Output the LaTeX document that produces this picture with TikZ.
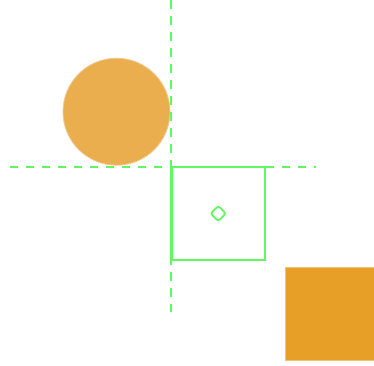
\documentclass[tikz,border=0pt]{standalone}
\usetikzlibrary{shapes.geometric}
\definecolor{lgreen}{RGB}{95,250,95}
\definecolor{circfill}{RGB}{235,174,79}
\definecolor{circedge}{RGB}{242,200,140}
\definecolor{rectfill}{RGB}{232,159,39}
\definecolor{rectedge}{RGB}{240,195,120}
\tikzset{
  guide/.style={draw=lgreen, line width=2.4pt, dash pattern=on 8.5pt off 7.5pt},
  boxline/.style={draw=lgreen, line width=2.4pt},
}
\begin{document}
\begin{tikzpicture}[x=1pt,y=-1pt]
\useasboundingbox (0,0) rectangle (374,365);
% circle
\node[circle, fill=circfill, draw=circedge, line width=0.8pt, minimum size=107pt, inner sep=0pt] (disc) at (116.5,111.7) {};
% guides
\coordinate (vtop) at (171,0);
\coordinate (vbot) at (171,312);
\coordinate (hl) at (9.5,166.7);
\coordinate (hr) at (316,166.7);
\draw[guide] (vtop) -- (vbot);
\draw[guide] (hl) -- (hr);
% square
\node[rectangle, boxline, minimum size=93.5pt, inner sep=0pt] (sq) at (218.2,213.5) {};
\node[diamond, boxline, line width=1.8pt, rounded corners=2.5pt, minimum size=16pt, inner sep=0pt] (dm) at (sq.center) {};
% orange rect
\node[rectangle, draw=rectedge, line width=0.6pt, fill=rectfill, minimum width=90pt, minimum height=93.3pt, inner sep=0pt, anchor=north west] (blk) at (285,266.7) {};
\end{tikzpicture}
\end{document}
